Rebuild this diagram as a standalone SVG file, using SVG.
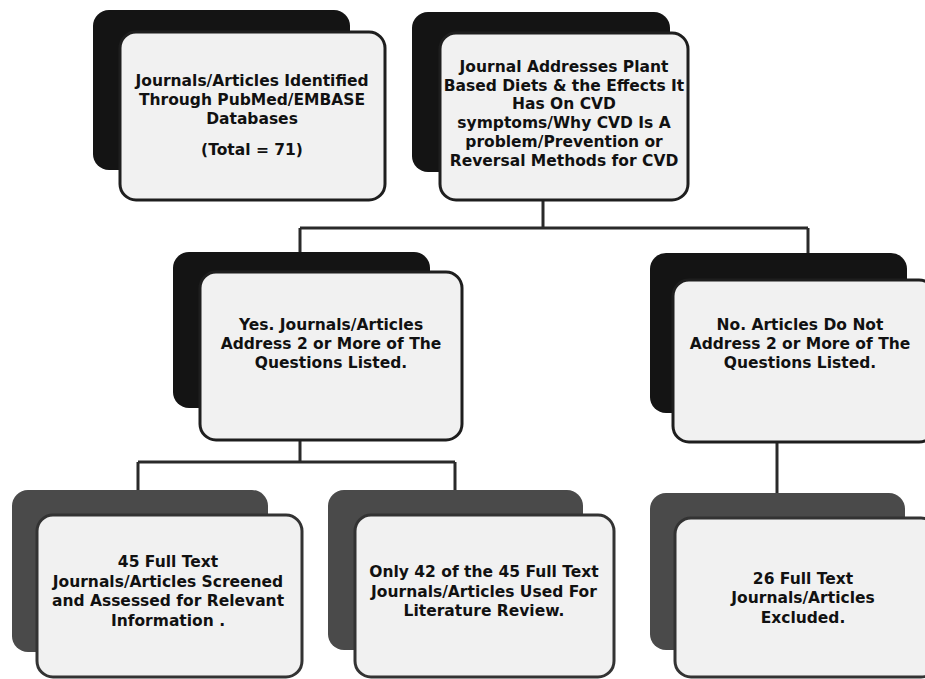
<svg xmlns="http://www.w3.org/2000/svg" width="925" height="679" viewBox="0 0 925 679">
<style>
.bk{fill:#141414;}
.bk2{fill:#4a4a4a;}
.fr{fill:#f1f1f1;stroke:#1e1e1e;stroke-width:3;}
.fr2{fill:#f1f1f1;stroke:#333;stroke-width:3;}
.t{font-family:"DejaVu Sans","Liberation Sans",sans-serif;font-weight:700;font-size:15.5px;fill:#111;text-anchor:middle;}
.c{fill:none;stroke:#2a2a2a;stroke-width:3;}
</style>
<rect width="925" height="679" fill="#fff"/>
<g id="connectors">
<path class="c" d="M543 200V228M300 228H808M300 228V252M808 228V253"/>
<path class="c" d="M300 440V462M138 462H455M138 462V490M455 462V490"/>
<path class="c" d="M777 442V493"/>
</g>
<g id="n1">
<rect class="bk" x="93" y="10" width="257" height="160" rx="16"/>
<rect class="fr" x="120" y="32" width="265" height="168" rx="16"/>
<text class="t" x="252" y="86">Journals/Articles Identified</text>
<text class="t" x="252" y="105">Through PubMed/EMBASE</text>
<text class="t" x="252" y="124">Databases</text>
<text class="t" x="252" y="155">(Total = 71)</text>
</g>
<g id="n2">
<rect class="bk" x="412" y="12" width="258" height="160" rx="16"/>
<rect class="fr" x="440" y="33" width="248" height="167" rx="16"/>
<text class="t" x="564" y="72">Journal Addresses Plant</text>
<text class="t" x="564" y="90.7">Based Diets &amp; the Effects It</text>
<text class="t" x="564" y="109.4">Has On CVD</text>
<text class="t" x="564" y="128.1">symptoms/Why CVD Is  A</text>
<text class="t" x="564" y="146.8">problem/Prevention or</text>
<text class="t" x="564" y="165.5">Reversal Methods for CVD</text>
</g>
<g id="n3">
<rect class="bk" x="173" y="252" width="257" height="156" rx="16"/>
<rect class="fr" x="200" y="272" width="262" height="168" rx="16"/>
<text class="t" x="331" y="330">Yes. Journals/Articles</text>
<text class="t" x="331" y="349">Address 2 or More of The</text>
<text class="t" x="331" y="368">Questions Listed.</text>
</g>
<g id="n4">
<rect class="bk" x="650" y="253" width="257" height="160" rx="16"/>
<rect class="fr" x="673" y="280" width="262" height="162" rx="16"/>
<text class="t" x="800" y="330">No. Articles Do Not</text>
<text class="t" x="800" y="349">Address 2 or More of The</text>
<text class="t" x="800" y="368">Questions  Listed.</text>
</g>
<g id="n5">
<rect class="bk2" x="12" y="490" width="256" height="162" rx="16"/>
<rect class="fr2" x="37" y="515" width="265" height="162" rx="16"/>
<text class="t" x="168" y="567">45 Full Text</text>
<text class="t" x="168" y="587">Journals/Articles  Screened</text>
<text class="t" x="168" y="606">and Assessed for Relevant</text>
<text class="t" x="168" y="626">Information .</text>
</g>
<g id="n6">
<rect class="bk2" x="328" y="490" width="255" height="160" rx="16"/>
<rect class="fr2" x="355" y="515" width="259" height="162" rx="16"/>
<text class="t" x="484" y="577">Only 42 of the 45 Full Text</text>
<text class="t" x="484" y="597">Journals/Articles  Used For</text>
<text class="t" x="484" y="616">Literature Review.</text>
</g>
<g id="n7">
<rect class="bk2" x="650" y="493" width="255" height="157" rx="16"/>
<rect class="fr2" x="675" y="518" width="262" height="159" rx="16"/>
<text class="t" x="803" y="584">26  Full Text</text>
<text class="t" x="803" y="603">Journals/Articles</text>
<text class="t" x="803" y="623">Excluded.</text>
</g>
</svg>
